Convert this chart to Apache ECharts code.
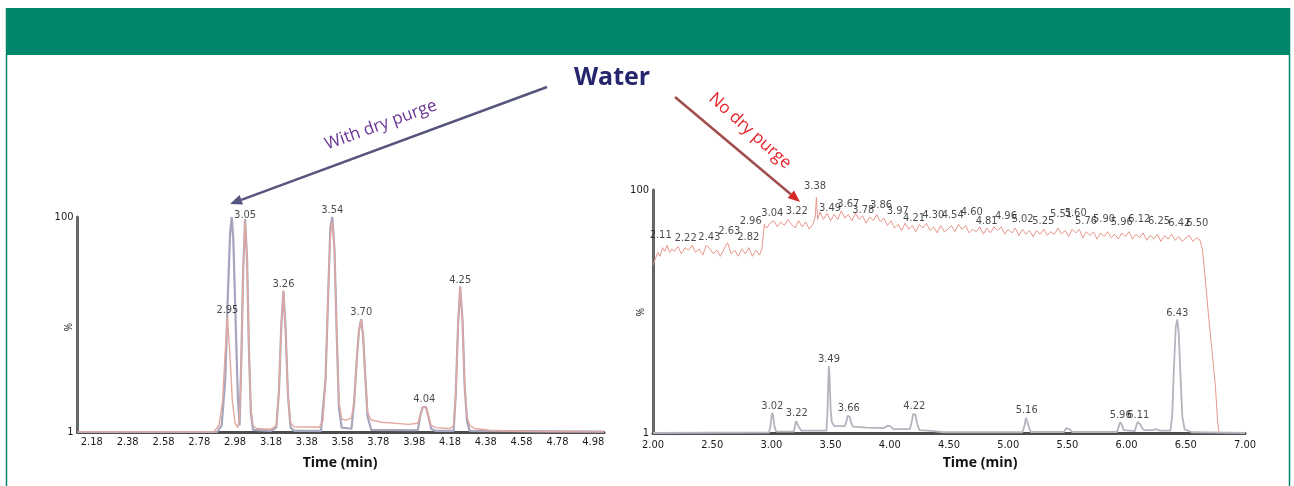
<!DOCTYPE html>
<html><head><meta charset="utf-8">
<script src="https://cdn.jsdelivr.net/npm/echarts/dist/echarts.min.js"></script>
<style>html,body{margin:0;padding:0;background:#fff}#c{width:1294px;height:486px}</style>
</head><body><div id="c"></div>
<script>
// ---------- DATA ----------
// Left panel: "With dry purge" (time in min, intensity in %)
const leftTicks = [2.18, 2.38, 2.58, 2.78, 2.98, 3.18, 3.38, 3.58, 3.78, 3.98, 4.18, 4.38, 4.58, 4.78, 4.98];
const leftGray = [[2.10,1],[2.88,1],[2.905,4],[2.925,25],[2.94,65],[2.952,92],[2.961,100],[2.97,90],[2.982,55],[2.995,18],[3.005,4],[3.015,35],[3.025,75],[3.036,99],[3.047,80],[3.057,40],[3.068,10],[3.08,2],[3.18,1.5],[3.21,3],[3.225,20],[3.238,50],[3.25,66],[3.262,48],[3.275,18],[3.29,3],[3.31,1.5],[3.46,1.5],[3.485,25],[3.50,65],[3.512,95],[3.523,100],[3.535,85],[3.548,45],[3.56,12],[3.575,3],[3.63,2.5],[3.645,15],[3.66,35],[3.672,48],[3.684,53],[3.695,45],[3.708,25],[3.72,8],[3.74,2],[4.00,1.8],[4.015,9],[4.028,12.5],[4.036,13.3],[4.046,12.5],[4.06,8],[4.075,2.5],[4.10,1.5],[4.20,1.5],[4.212,18],[4.225,50],[4.237,68],[4.25,52],[4.262,22],[4.275,6],[4.29,1.5],[5.04,1.2]];
const leftRed = [[2.10,1],[2.86,1],[2.89,4],[2.91,15],[2.925,38],[2.937,54],[2.95,38],[2.965,15],[2.98,5],[2.995,3],[3.005,8],[3.015,35],[3.025,75],[3.036,98],[3.047,80],[3.057,40],[3.068,12],[3.08,4],[3.10,2.6],[3.18,2.3],[3.21,4],[3.225,20],[3.238,50],[3.25,66],[3.262,48],[3.275,18],[3.29,5],[3.31,3.4],[3.45,3.2],[3.47,6],[3.485,25],[3.50,65],[3.512,92],[3.523,98],[3.535,85],[3.548,45],[3.56,15],[3.575,7],[3.60,6.5],[3.63,7.5],[3.645,15],[3.66,35],[3.672,48],[3.684,53],[3.695,45],[3.708,25],[3.72,10],[3.74,6.5],[3.80,5.5],[3.95,4.5],[4.00,5],[4.015,9],[4.028,12.5],[4.036,13.3],[4.046,12.5],[4.06,8],[4.075,4],[4.10,3],[4.18,2.6],[4.20,4],[4.212,18],[4.225,50],[4.237,68],[4.25,52],[4.262,22],[4.275,8],[4.29,4],[4.32,2.6],[4.40,1.8],[4.60,1.2],[5.04,1]];
const leftPeakT = [2.937, 3.036, 3.25, 3.523, 3.684, 4.036, 4.237];
const leftPeakV = [54, 98, 66, 100, 53, 13.3, 68];
const leftPeakLabel = ['2.95','3.05','3.26','3.54','3.70','4.04','4.25'];

// Right panel: "No dry purge"
const rightNoise = [[2.00,69.5],[2.02,72],[2.04,74.5],[2.06,73],[2.08,76.5],[2.10,75],[2.12,77.5],[2.14,74.5],[2.16,76],[2.18,75],[2.21,77],[2.24,74],[2.27,76.5],[2.30,75.5],[2.33,77.5],[2.36,74.5],[2.39,76],[2.42,73.5],[2.45,77.5],[2.48,76],[2.51,74],[2.54,75.5],[2.57,73],[2.60,76],[2.63,78.5],[2.66,74],[2.69,75.5],[2.72,73],[2.75,76],[2.78,74],[2.81,76.5],[2.84,73],[2.87,75.5],[2.90,73.5],[2.92,76],[2.94,86],[2.96,84.5],[2.99,86.5],[3.02,87.5],[3.05,85],[3.08,87],[3.11,85.5],[3.14,88],[3.17,86],[3.20,84.5],[3.23,87.5],[3.26,85],[3.29,87],[3.32,84],[3.35,86],[3.37,89],[3.38,97],[3.39,88],[3.41,91],[3.44,88],[3.47,90.5],[3.50,87.5],[3.53,90],[3.56,88],[3.59,91.5],[3.62,88.5],[3.65,90],[3.68,87.5],[3.71,90.5],[3.74,88],[3.77,89.5],[3.80,86.5],[3.83,89],[3.86,87.5],[3.89,90],[3.92,87],[3.95,88.5],[3.98,85.5],[4.01,87.5],[4.04,84.5],[4.07,86],[4.10,83.5],[4.13,86.5],[4.16,84],[4.19,85.5],[4.22,83],[4.25,86],[4.28,84.5],[4.31,86.5],[4.34,83.5],[4.37,85],[4.40,82.5],[4.43,85.5],[4.46,83],[4.49,84],[4.52,85.5],[4.55,83],[4.58,86],[4.61,84],[4.64,85.5],[4.67,82.5],[4.70,84],[4.73,83],[4.76,85],[4.79,82],[4.82,84.5],[4.85,82.5],[4.88,85],[4.91,83.5],[4.94,85],[4.97,82],[5.00,84],[5.03,82.5],[5.06,84.5],[5.09,81.5],[5.12,84],[5.15,82],[5.18,83.5],[5.21,81],[5.24,83.5],[5.27,82],[5.30,84],[5.33,81.5],[5.36,83],[5.39,82],[5.42,84.5],[5.45,82],[5.48,83.5],[5.51,81],[5.54,84],[5.57,82.5],[5.60,84],[5.63,80.5],[5.66,83],[5.69,81.5],[5.72,83],[5.75,80],[5.78,82.5],[5.81,81],[5.84,83],[5.87,80.5],[5.90,82],[5.93,80],[5.96,82.5],[5.99,81],[6.02,83],[6.05,80],[6.08,82],[6.11,80.5],[6.14,82.5],[6.17,79.5],[6.20,81.5],[6.23,80],[6.26,82],[6.29,79],[6.32,81.5],[6.35,80],[6.38,82],[6.41,79.5],[6.44,81],[6.47,79],[6.50,80.5],[6.53,81.5],[6.56,79],[6.59,80.5],[6.62,79.5],[6.64,76],[6.66,66],[6.69,50],[6.72,35],[6.75,20],[6.77,5],[6.78,1]];
const rightGray = [[2.00,1],[2.98,1.2],[2.992,4],[3.002,8],[3.008,9.3],[3.015,8],[3.025,4],[3.04,1.6],[3.19,1.6],[3.198,3.5],[3.207,5.8],[3.214,6.3],[3.222,5.5],[3.232,3.5],[3.25,2],[3.465,2],[3.474,10],[3.48,22],[3.486,28.3],[3.492,23],[3.50,11],[3.51,5.5],[3.53,3.8],[3.62,3.8],[3.635,6],[3.645,8],[3.653,8.3],[3.662,7.5],[3.675,5],[3.69,3.6],[3.80,3.2],[3.95,3.0],[3.98,3.9],[4.00,3.9],[4.03,2.6],[4.17,2.6],[4.185,5.5],[4.198,8.8],[4.207,9.3],[4.216,8.5],[4.23,5],[4.25,2.2],[4.35,1.9],[4.45,1.3],[5.12,1.3],[5.138,4],[5.15,7.2],[5.156,7.6],[5.163,7],[5.175,3.5],[5.19,1.4],[5.47,1.4],[5.49,3],[5.50,3.2],[5.52,2.5],[5.54,1.4],[5.92,1.4],[5.935,4],[5.945,5.4],[5.95,5.6],[5.96,4.5],[5.975,2.2],[5.99,1.8],[6.07,1.8],[6.085,4.5],[6.095,5.5],[6.10,5.6],[6.115,4.5],[6.13,3],[6.15,2.2],[6.22,2.2],[6.25,2.6],[6.28,2],[6.37,2],[6.385,8],[6.40,28],[6.415,44],[6.428,47.3],[6.44,42],[6.455,25],[6.47,8],[6.49,2.5],[6.55,1.3],[7.00,1]];
const rightNoiseLabelT = [2.065,2.276,2.476,2.644,2.805,2.825,3.008,3.214,3.368,3.495,3.649,3.776,3.926,4.067,4.204,4.367,4.531,4.692,4.818,4.981,5.122,5.296,5.446,5.570,5.657,5.809,5.959,6.107,6.274,6.445,6.597];
const rightNoiseLabelV = [78.8,77.7,78.1,80.4,78.1,84.6,88.1,88.7,98.9,90.1,91.7,89.3,91.3,88.7,86.0,87.0,87.2,88.3,84.6,86.7,85.6,84.5,87.4,88.1,84.6,85.6,84.2,85.6,84.5,83.8,83.8];
const rightNoiseLabel = ['2.11','2.22','2.43','2.63','2.82','2.96','3.04','3.22','3.38','3.49','3.67','3.78','3.86','3.97','4.21','4.30','4.54','4.60','4.81','4.96','5.02','5.25','5.51','5.60','5.76','5.90','5.96','6.12','6.25','6.42','6.50'];
const rightPeakT = [3.008, 3.214, 3.486, 3.653, 4.207, 5.156, 5.95, 6.099, 6.428];
const rightPeakV = [9.3, 6.3, 28.3, 8.3, 9.3, 7.6, 5.6, 5.6, 47.3];
const rightPeakLabel = ['3.02','3.22','3.49','3.66','4.22','5.16','5.96','6.11','6.43'];

// ---------- CHART ----------
const FONT = '"Liberation Sans Narrow","DejaVu Sans Condensed","Open Sans",sans-serif';
const labelFont = {fontFamily: FONT, fontSize: 11, color: '#1a1a1a'};
const zip = (t, v, l) => t.map((x, i) => [x, v[i], l[i]]);

const chart = echarts.init(document.getElementById('c'), null, {renderer: 'canvas'});

function xAxisBase(gridIndex, min, max) {
  return {
    type: 'value', gridIndex, min, max,
    axisLine: {show: true, onZero: false, lineStyle: {color: '#4d4d4d', width: 3}},
    axisTick: {show: false}, splitLine: {show: false},
    axisLabel: Object.assign({margin: 5, formatter: v => v.toFixed(2)}, labelFont)
  };
}
function yAxisBase(gridIndex) {
  return {
    type: 'value', gridIndex, min: 1, max: 100,
    axisLine: {show: true, lineStyle: {color: '#666', width: 3}},
    axisTick: {show: false}, splitLine: {show: false},
    axisLabel: Object.assign({margin: 4, customValues: [1, 100], formatter: v => String(v)}, labelFont)
  };
}
const labelSeries = (name, xi, data) => ({
  name, type: 'scatter', xAxisIndex: xi, yAxisIndex: xi, symbolSize: 0, z: 5,
  data: data,
  label: Object.assign({show: true, position: 'top', distance: 1, formatter: p => p.value[2]}, labelFont),
  silent: true
});

const lx = xAxisBase(0, 2.10, 5.04);
lx.axisLabel.customValues = leftTicks;
const rx = xAxisBase(1, 2, 7);
rx.interval = 0.5;
rx.axisLabel.margin = 7;

const arrowL = {base: [241.3, 199.8], start: [547, 87]};
const arrowR = {base: [790.8, 194.3], start: [675, 97]};

chart.setOption({
  animation: false,
  backgroundColor: '#ffffff',
  grid: [
    {left: 77.5, top: 217, width: 526.5, height: 215},
    {left: 653, top: 190, width: 592, height: 243}
  ],
  xAxis: [lx, rx],
  yAxis: [yAxisBase(0), yAxisBase(1)],
  series: [
    {name: 'With dry purge (trace 1)', type: 'line', xAxisIndex: 0, yAxisIndex: 0, data: leftGray, showSymbol: false, lineStyle: {color: '#a5a5bd', width: 2.2}},
    {name: 'With dry purge (trace 2)', type: 'line', xAxisIndex: 0, yAxisIndex: 0, data: leftRed, showSymbol: false, lineStyle: {color: '#e3a89f', width: 1.4}},
    labelSeries('left peaks', 0, zip(leftPeakT, leftPeakV, leftPeakLabel)),
    {name: 'No dry purge (TIC)', type: 'line', xAxisIndex: 1, yAxisIndex: 1, data: rightNoise, showSymbol: false, lineStyle: {color: '#e6978b', width: 1}},
    {name: 'No dry purge (trace)', type: 'line', xAxisIndex: 1, yAxisIndex: 1, data: rightGray, showSymbol: false, lineStyle: {color: '#b4b4be', width: 1.8}},
    labelSeries('right noise labels', 1, zip(rightNoiseLabelT, rightNoiseLabelV, rightNoiseLabel)),
    labelSeries('right peaks', 1, zip(rightPeakT, rightPeakV, rightPeakLabel))
  ],
  graphic: [
    {type: 'rect', shape: {x: 6, y: 8, width: 1284, height: 47}, style: {fill: '#00866a'}},
    {type: 'line', shape: {x1: 6.5, y1: 8, x2: 6.5, y2: 486}, style: {stroke: '#00866a', lineWidth: 1.5}},
    {type: 'line', shape: {x1: 1289.5, y1: 8, x2: 1289.5, y2: 486}, style: {stroke: '#00866a', lineWidth: 1.5}},
    {type: 'text', x: 612, y: 78, style: {text: 'Water', fill: '#26266f', font: 'bold 25px "Open Sans", sans-serif', align: 'center', verticalAlign: 'middle', textAlign: 'center', textVerticalAlign: 'middle'}},
    {type: 'line', shape: {x1: arrowL.start[0], y1: arrowL.start[1], x2: arrowL.base[0], y2: arrowL.base[1]}, style: {stroke: '#55557e', lineWidth: 2.5}},
    {type: 'polygon', shape: {points: [[230, 204], [239.6, 195.1], [243.0, 204.5]]}, style: {fill: '#55557e'}},
    {type: 'text', x: 381, y: 125, rotation: 0.349, style: {text: 'With dry purge', fill: '#6b3596', font: '17px "Open Sans", sans-serif', align: 'center', verticalAlign: 'middle', textAlign: 'center', textVerticalAlign: 'middle'}},
    {type: 'line', shape: {x1: arrowR.start[0], y1: arrowR.start[1], x2: arrowR.base[0], y2: arrowR.base[1]}, style: {stroke: '#a14d4d', lineWidth: 2.5}},
    {type: 'polygon', shape: {points: [[800, 202], [787.6, 198.1], [794.0, 190.5]]}, style: {fill: '#d42a2a'}},
    {type: 'text', x: 750, y: 131, rotation: -0.733, style: {text: 'No dry purge', fill: '#e8232b', font: '17px "Open Sans", sans-serif', align: 'center', verticalAlign: 'middle', textAlign: 'center', textVerticalAlign: 'middle'}},
    {type: 'text', x: 69, y: 327, rotation: Math.PI / 2, style: {text: '%', fill: '#222', font: '10px "Open Sans", sans-serif', align: 'center', verticalAlign: 'middle', textAlign: 'center', textVerticalAlign: 'middle'}},
    {type: 'text', x: 641, y: 312, rotation: Math.PI / 2, style: {text: '%', fill: '#222', font: '10px "Open Sans", sans-serif', align: 'center', verticalAlign: 'middle', textAlign: 'center', textVerticalAlign: 'middle'}},
    {type: 'text', x: 340, y: 463, style: {text: 'Time (min)', fill: '#111', font: 'bold 14px "Open Sans", sans-serif', align: 'center', verticalAlign: 'middle', textAlign: 'center', textVerticalAlign: 'middle'}},
    {type: 'text', x: 980, y: 463, style: {text: 'Time (min)', fill: '#111', font: 'bold 14px "Open Sans", sans-serif', align: 'center', verticalAlign: 'middle', textAlign: 'center', textVerticalAlign: 'middle'}}
  ]
});
</script>
</body></html>
